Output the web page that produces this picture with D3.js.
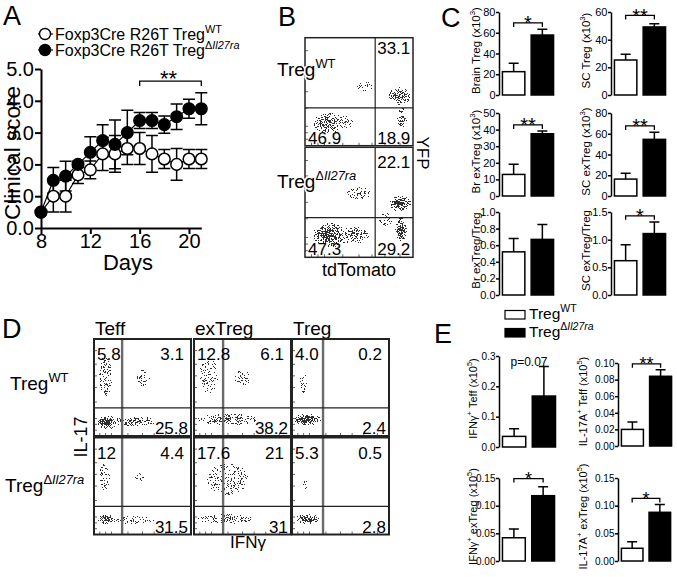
<!DOCTYPE html>
<html><head><meta charset="utf-8">
<script src="https://cdn.jsdelivr.net/npm/d3@7"></script>
<style>
html,body{margin:0;padding:0;background:#fff;}
svg{display:block;font-family:"Liberation Sans",Arial,Helvetica,sans-serif;}
</style></head><body>
<svg id="fig" width="677" height="577"></svg>
<script>
// ================= DATA =================
// Panel A: clinical score
const days     = [8, 9, 10, 11, 12, 13, 14, 15, 16, 17, 18, 19, 20, 21];
const scoreWT  = [0.5, 1.0, 1.0, 1.67, 1.83, 2.33, 2.33, 2.5, 2.5, 2.33, 2.17, 2.0, 2.17, 2.17];
const semWT    = [0, 0.5, 0.5, 0.27, 0.28, 0.52, 0.58, 0.5, 0.5, 0.58, 0.3, 0.5, 0.3, 0.3];
const scoreKO  = [0.5, 1.5, 1.63, 2.0, 2.38, 2.75, 2.63, 3.0, 3.38, 3.38, 3.25, 3.5, 3.75, 3.75];
const semKO    = [0, 0.4, 0.47, 0.1, 0.49, 0.5, 0.77, 0.7, 0.25, 0.25, 0.27, 0.4, 0.3, 0.5];
const scoreTicksY = [0, 1, 2, 3, 4, 5];
const dayTicks    = [8, 12, 16, 20];
const sigA = {from: 16, to: 21, level: 4.62, text: "**"};

// Panel B: flow quadrant percentages [top-right, bottom-left, bottom-right]
const bQuadWT = ["33.1", "46.9", "18.9"];
const bQuadKO = ["22.1", "47.3", "29.2"];
// cell clouds: [x, y, rx, ry, density] in fraction of plot
const bCloudWT = [[0.21,0.21,0.15,0.11,0.8],[0.38,0.22,0.14,0.08,0.25],[0.88,0.46,0.11,0.09,0.8],[0.9,0.26,0.05,0.1,0.75],[0.55,0.55,0.35,0.2,0.12],[0.3,0.75,0.25,0.15,0.06]];
const bCloudKO = [[0.23,0.2,0.17,0.12,0.95],[0.22,0.2,0.09,0.07,0.9],[0.45,0.2,0.18,0.09,0.5],[0.88,0.49,0.11,0.08,0.95],[0.88,0.49,0.06,0.05,0.8],[0.89,0.25,0.06,0.12,0.95],[0.89,0.24,0.035,0.08,0.8],[0.5,0.58,0.3,0.15,0.14],[0.75,0.35,0.1,0.1,0.25]];

// Panel C: bar data
const cNames  = ["Brain Treg", "SC Treg", "Br exTreg", "SC exTreg", "Br exTreg/Treg", "SC exTreg/Treg"];
const cScaled = [true, true, true, true, false, false];
const cWT     = [22.5, 25.3, 13, 16.3, 0.52, 0.62];
const cWTsem  = [8, 4.1, 6.2, 5.6, 0.16, 0.29];
const cKO     = [57.8, 49.2, 37.5, 54.6, 0.67, 1.11];
const cKOsem  = [5.5, 2.3, 1.7, 6.8, 0.18, 0.21];
const cMax    = [80, 60, 50, 80, 1.0, 1.5];
const cStep   = [20, 20, 10, 20, 0.2, 0.5];
const cSig    = ["*", "**", "**", "**", "", "*"];
const cSigAt  = [69.5, 57.5, 42.8, 67.5, null, 1.43];

// Panel D: flow quadrant percentages [top-left, top-right, bottom-right]
const dCols = ["Teff", "exTreg", "Treg"];
const dQuadWT = [["5.8","3.1","25.8"], ["12.8","6.1","38.2"], ["4.0","0.2","2.4"]];
const dQuadKO = [["12","4.4","31.5"], ["17.6","21","31"], ["5.3","0.5","2.8"]];
const dGateX  = [0.29, 0.30, 0.32];
const dGateY  = 0.29;
const dTeffWT   = [[0.13,0.14,0.11,0.08,1.0],[0.13,0.14,0.07,0.055,1.0],[0.42,0.15,0.28,0.06,0.55],[0.12,0.62,0.1,0.3,0.28],[0.5,0.6,0.22,0.22,0.14]];
const dExTregWT = [[0.35,0.17,0.36,0.07,0.6],[0.15,0.62,0.15,0.3,0.22],[0.5,0.6,0.28,0.28,0.13]];
const dTregWT   = [[0.16,0.17,0.15,0.065,0.95],[0.14,0.17,0.09,0.045,0.9],[0.12,0.55,0.1,0.25,0.15],[0.62,0.18,0.22,0.07,0.08]];
const dTeffKO   = [[0.12,0.16,0.09,0.06,0.85],[0.12,0.16,0.05,0.04,0.7],[0.4,0.15,0.28,0.05,0.4],[0.11,0.6,0.09,0.25,0.2],[0.47,0.6,0.22,0.22,0.12]];
const dExTregKO = [[0.33,0.16,0.36,0.06,0.45],[0.35,0.57,0.34,0.26,0.22]];
const dTregKO   = [[0.16,0.16,0.14,0.055,0.8],[0.15,0.16,0.08,0.04,0.6],[0.14,0.52,0.1,0.22,0.12],[0.57,0.25,0.18,0.12,0.06]];

// Panel E: bar data
const eWT    = [0.035, 0.020, 0.042, 0.023];
const eWTsem = [0.025, 0.009, 0.016, 0.012];
const eKO    = [0.168, 0.084, 0.118, 0.088];
const eKOsem = [0.097, 0.008, 0.016, 0.014];
const eMax   = [0.3, 0.10, 0.15, 0.15];
const eStep  = [0.1, 0.02, 0.05, 0.05];
const eFmt   = [".1f", ".2f", ".2f", ".2f"];
const eSig   = ["p=0.07", "**", "*", "*"];
const eSigAt = [null, 0.099, 0.149, 0.113];

// ================= HELPERS =================
const svg = d3.select('#fig');
const FF = '"Liberation Sans", Arial, Helvetica, sans-serif';
const defs = svg.append('defs');

const grad = defs.append('radialGradient').attr('id', 'blob');
grad.append('stop').attr('offset', '0%').attr('stop-color', '#000').attr('stop-opacity', 1);
grad.append('stop').attr('offset', '50%').attr('stop-color', '#000').attr('stop-opacity', 0.6);
grad.append('stop').attr('offset', '100%').attr('stop-color', '#000').attr('stop-opacity', 0);

const flt = defs.append('filter').attr('id', 'stipple').attr('filterUnits', 'userSpaceOnUse')
  .attr('x', 0).attr('y', 0).attr('width', 677).attr('height', 577)
  .attr('color-interpolation-filters', 'sRGB');
flt.append('feTurbulence').attr('type', 'fractalNoise').attr('baseFrequency', 1.3)
  .attr('numOctaves', 2).attr('seed', 5).attr('result', 'n');
flt.append('feColorMatrix').attr('in', 'n').attr('type', 'matrix')
  .attr('values', '0 0 0 0 0  0 0 0 0 0  0 0 0 0 0  4 0 0 0 -1.5').attr('result', 'na');
flt.append('feComposite').attr('in', 'SourceAlpha').attr('in2', 'na').attr('operator', 'arithmetic')
  .attr('k1', 0).attr('k2', 1).attr('k3', -1).attr('k4', 0).attr('result', 'd');
flt.append('feComponentTransfer').attr('in', 'd').attr('result', 'dots')
  .append('feFuncA').attr('type', 'discrete').attr('tableValues', '0 1 1 1 1 1 1 1 1 1');
flt.append('feFlood').attr('flood-color', '#2e2e2e').attr('result', 'fl');
flt.append('feComposite').attr('in', 'fl').attr('in2', 'dots').attr('operator', 'in');

function rich(t, parts, fs) {
  let up = false;
  parts.forEach(p => {
    const s = typeof p === 'string' ? p : p[0];
    const kind = typeof p === 'string' ? '' : p[1];
    const wantUp = kind === 'sup' || kind === 'supi';
    const ts = t.append('tspan').text(s);
    if (wantUp && !up) ts.attr('dy', -0.42 * fs);
    if (!wantUp && up) ts.attr('dy', 0.42 * fs);
    if (wantUp) ts.attr('font-size', 0.68 * fs);
    if (kind === 'supi') ts.attr('font-style', 'italic');
    up = wantUp;
  });
  return t;
}
function txt(parent, x, y, fs, parts, anchor) {
  const t = parent.append('text').attr('x', x).attr('y', y).attr('font-size', fs)
    .attr('text-anchor', anchor || 'start').attr('fill', '#000');
  return rich(t, typeof parts === 'string' ? [parts] : parts, fs);
}
function rtxt(parent, x, y, fs, parts, angle) {
  const t = parent.append('text').attr('transform', `translate(${x},${y}) rotate(${angle})`)
    .attr('font-size', fs).attr('text-anchor', 'middle').attr('fill', '#000');
  return rich(t, typeof parts === 'string' ? [parts] : parts, fs);
}
function styleAxis(g, fs, sw) {
  g.attr('font-family', FF).attr('font-size', fs);
  g.select('.domain').attr('stroke', '#000').attr('stroke-width', sw);
  g.selectAll('.tick line').attr('stroke', '#000').attr('stroke-width', sw);
  g.selectAll('.tick text').attr('fill', '#000');
}
const KO_SUP = ['Treg', ['Δ', 'sup'], ['Il27ra', 'supi']];
const WT_SUP = ['Treg', ['WT', 'sup']];

// panel letters
[['A', 3, 25], ['B', 278, 26], ['C', 441, 27], ['D', 2, 338], ['E', 434, 343]].forEach(([l, x, y]) =>
  txt(svg, x, y, 27, l));

// ================= PANEL A =================
const gA = svg.append('g');
const xA = d3.scaleLinear().domain([8, 21]).range([41, 201.3]);
const yA = d3.scaleLinear().domain([0, 5]).range([228, 69]);
styleAxis(gA.append('g').attr('transform', 'translate(41,0)')
  .call(d3.axisLeft(yA).tickValues(scoreTicksY).tickSize(6).tickSizeOuter(0).tickPadding(1)), 20, 2);
styleAxis(gA.append('g').attr('transform', 'translate(0,228)')
  .call(d3.axisBottom(xA).tickValues(dayTicks).tickSize(6).tickSizeOuter(0).tickPadding(0)), 20, 2);
rtxt(gA, 20, 153, 22.5, 'Clinical score', -90);
txt(gA, 128, 270, 22, 'Days', 'middle');

const seriesA = [
  {m: scoreWT, s: semWT, fill: '#fff'},
  {m: scoreKO, s: semKO, fill: '#000'}
];
seriesA.forEach(S => {
  days.forEach((d, i) => {
    if (!S.s[i]) return;
    const cx = xA(d), lo = yA(S.m[i] - S.s[i]), hi = yA(S.m[i] + S.s[i]);
    gA.append('path').attr('d', `M${cx},${lo}V${hi}M${cx - 6},${lo}H${cx + 6}M${cx - 6},${hi}H${cx + 6}`)
      .attr('stroke', '#000').attr('stroke-width', 1.5).attr('fill', 'none');
  });
});
const lineA = d3.line().x((d, i) => xA(days[i])).y(d => yA(d));
seriesA.forEach(S => gA.append('path').attr('d', lineA(S.m)).attr('fill', 'none')
  .attr('stroke', '#000').attr('stroke-width', 1.2));
seriesA.forEach(S => gA.selectAll(null).data(S.m).join('circle')
  .attr('cx', (d, i) => xA(days[i])).attr('cy', d => yA(d)).attr('r', 5.8)
  .attr('fill', S.fill).attr('stroke', '#000').attr('stroke-width', 1.5));
{
  const x1 = xA(sigA.from), x2 = xA(sigA.to), yy = yA(sigA.level);
  gA.append('path').attr('d', `M${x1},${yy + 5}V${yy}H${x2}V${yy + 5}`).attr('fill', 'none')
    .attr('stroke', '#000').attr('stroke-width', 1.3);
  txt(gA, (x1 + x2) / 2 - 2, yy - 4 + 0.42 * 22, 22, sigA.text, 'middle');
}
[[34, '#fff', ['Foxp3Cre R26T ', ...WT_SUP]], [50, '#000', ['Foxp3Cre R26T ', ...KO_SUP]]].forEach(([yy, fill, parts]) => {
  gA.append('line').attr('x1', 38).attr('x2', 53).attr('y1', yy).attr('y2', yy).attr('stroke', '#000').attr('stroke-width', 1.2);
  gA.append('circle').attr('cx', 45).attr('cy', yy).attr('r', 5.5).attr('fill', fill).attr('stroke', '#000').attr('stroke-width', 1.4);
  txt(gA, 55, yy + 5.7, 16, parts);
});

// ================= FLOW HELPERS =================
let clipN = 0;
function flowPlot(o) {
  const g = svg.append('g');
  const x = d3.scaleLinear().domain([0, 1]).range([o.left, o.left + o.w]);
  const y = d3.scaleLinear().domain([0, 1]).range([o.top + o.h, o.top]);
  const id = 'clip' + (clipN++);
  defs.append('clipPath').attr('id', id).append('rect')
    .attr('x', o.left).attr('y', o.top).attr('width', o.w).attr('height', o.h);
  g.append('g').attr('clip-path', `url(#${id})`).append('g').attr('filter', 'url(#stipple)')
    .selectAll('ellipse').data(o.clouds).join('ellipse')
    .attr('cx', d => x(d[0])).attr('cy', d => y(d[1]))
    .attr('rx', d => x(d[2]) - x(0)).attr('ry', d => y(0) - y(d[3]))
    .attr('fill', 'url(#blob)').attr('fill-opacity', d => d[4]);
  const tk = [0.06, 0.12, 0.18, 0.35, 0.5, 0.62, 0.74, 0.88];
  g.selectAll(null).data(tk).join('line').attr('x1', o.left).attr('x2', o.left + 3)
    .attr('y1', d => y(d)).attr('y2', d => y(d)).attr('stroke', '#666').attr('stroke-width', 1);
  g.selectAll(null).data(tk).join('line').attr('y1', o.top + o.h).attr('y2', o.top + o.h - 3)
    .attr('x1', d => x(d)).attr('x2', d => x(d)).attr('stroke', '#666').attr('stroke-width', 1);
  g.append('line').attr('x1', x(o.gx)).attr('x2', x(o.gx)).attr('y1', o.top).attr('y2', o.top + o.h)
    .attr('stroke', o.vColor).attr('stroke-width', o.vWidth);
  g.append('line').attr('x1', o.left).attr('x2', o.left + o.w).attr('y1', y(o.gy)).attr('y2', y(o.gy))
    .attr('stroke', '#222').attr('stroke-width', 1.3);
  g.append('rect').attr('x', o.left).attr('y', o.top).attr('width', o.w).attr('height', o.h)
    .attr('fill', 'none').attr('stroke', '#222').attr('stroke-width', o.frame);
  return {g, x, y};
}

// ================= PANEL B =================
const bBoxes = [
  {top: 37.7, h: 108, clouds: bCloudWT, gy: 0.35, q: bQuadWT, tdy: 16.6, lab: WT_SUP, ly: 76},
  {top: 147.3, h: 110, clouds: bCloudKO, gy: 0.36, q: bQuadKO, tdy: 21, lab: KO_SUP, ly: 188}
];
bBoxes.forEach(b => {
  const P = flowPlot({left: 305, top: b.top, w: 108, h: b.h, clouds: b.clouds, gx: 0.65, gy: b.gy,
    vColor: '#333', vWidth: 1.3, frame: 1.5});
  const fs = 17;
  txt(P.g, P.x(0.65) + 2, b.top + b.tdy, fs, b.q[0]);
  txt(P.g, 308, b.top + b.h - 2, fs, b.q[1]);
  txt(P.g, P.x(0.65) + 2, b.top + b.h - 2, fs, b.q[2]);
  txt(P.g, 277, b.ly, 19, b.lab).attr('stroke', '#fff').attr('stroke-width', 3)
    .attr('paint-order', 'stroke');
});
rtxt(svg, 417, 153, 17, 'YFP', 90);
txt(svg, 359, 276, 18, 'tdTomato', 'middle');

// ================= BAR CHART HELPER =================
function barChart(o) {
  const g = svg.append('g');
  const y = d3.scaleLinear().domain([0, o.max]).range([o.y0, o.y1]);
  const x = d3.scaleBand().domain(['WT', 'KO']).range([o.ax + 2, o.ax + o.w]).paddingInner(0.22).paddingOuter(0.05);
  const ticks = d3.range(0, o.max + o.step / 2, o.step);
  styleAxis(g.append('g').attr('transform', `translate(${o.ax},0)`)
    .call(d3.axisLeft(y).tickValues(ticks).tickFormat(d3.format(o.fmt)).tickSize(3).tickSizeOuter(0).tickPadding(0.5)),
    o.tfs, 1.5);
  const vals = [{k: 'WT', v: o.wt, e: o.wtE}, {k: 'KO', v: o.ko, e: o.koE}];
  g.selectAll('rect.bar').data(vals).join('rect').attr('class', 'bar')
    .attr('x', d => x(d.k)).attr('y', d => y(d.v)).attr('width', x.bandwidth())
    .attr('height', d => y(0) - y(d.v))
    .attr('fill', d => d.k === 'WT' ? '#fff' : '#000').attr('stroke', '#000').attr('stroke-width', 1.5);
  vals.forEach(d => {
    const cx = x(d.k) + x.bandwidth() / 2, y1 = y(d.v), y2 = y(d.v + d.e);
    g.append('path').attr('d', `M${cx},${y1}V${y2}M${cx - 5},${y2}H${cx + 5}`).attr('fill', 'none')
      .attr('stroke', '#000').attr('stroke-width', 1.5);
  });
  const c1 = x('WT') + x.bandwidth() / 2, c2 = x('KO') + x.bandwidth() / 2;
  if (o.sigAt != null) {
    const yy = y(o.sigAt);
    g.append('path').attr('d', `M${c1},${yy + 4}V${yy}H${c2}V${yy + 4}`).attr('fill', 'none')
      .attr('stroke', '#000').attr('stroke-width', 1.3);
    txt(g, (c1 + c2) / 2, yy - 1 + 0.42 * o.sfs, o.sfs, o.sig, 'middle');
  } else if (o.sig) {
    txt(g, (c1 + c2) / 2, o.y1 + 10, 12, o.sig, 'middle');
  }
  rtxt(g, o.lx, (o.y0 + o.y1) / 2 - 3, o.lfs, o.label, -90);
}

// ================= PANEL C =================
const cPos = [
  {ax: 499, y0: 95, y1: 12, lx: 480}, {ax: 611, y0: 95, y1: 12, lx: 590},
  {ax: 499, y0: 196, y1: 113, lx: 480}, {ax: 611, y0: 196, y1: 113, lx: 590},
  {ax: 499, y0: 295, y1: 212, lx: 480}, {ax: 611, y0: 295, y1: 212, lx: 590}
];
cNames.forEach((n, i) => {
  barChart(Object.assign({}, cPos[i], {
    w: 56, max: cMax[i], step: cStep[i], fmt: cMax[i] >= 10 ? 'd' : '.1f',
    wt: cWT[i], wtE: cWTsem[i], ko: cKO[i], koE: cKOsem[i],
    sig: cSig[i], sigAt: cSigAt[i], sfs: 20, tfs: 11, lfs: 11.5,
    label: cScaled[i] ? [n + ' (x10', ['3', 'sup'], ')'] : [n]
  }));
});

// ================= PANEL D =================
const dColLeft = [94, 194, 292];
const dRowTop = [339, 437.5];
const dClouds = [[dTeffWT, dExTregWT, dTregWT], [dTeffKO, dExTregKO, dTregKO]];
const dQuads = [dQuadWT, dQuadKO];
dCols.forEach((c, j) => txt(svg, dColLeft[j] + 1, 335, 19, c));
dRowTop.forEach((top, r) => {
  dCols.forEach((c, j) => {
    const left = dColLeft[j], w = 97, h = 97;
    const P = flowPlot({left, top, w, h, clouds: dClouds[r][j], gx: dGateX[j], gy: dGateY,
      vColor: '#6a6a6a', vWidth: 2.4, frame: 2});
    const q = dQuads[r][j];
    txt(P.g, left + 3, top + 21, 17, q[0]);
    txt(P.g, left + w - 7, top + 21, 17, q[1], 'end');
    txt(P.g, left + w - 3, top + h - 2, 17, q[2], 'end');
  });
});
txt(svg, 10, 390, 19, WT_SUP);
txt(svg, 5, 492, 19, KO_SUP);
rtxt(svg, 87, 437, 18, 'IL-17', -90);
txt(svg, 248, 548, 17, 'IFNγ', 'middle');

// ================= PANEL E =================
const eLabels = [
  ['IFNγ', ['+', 'sup'], ' Teff (x10', ['5', 'sup'], ')'],
  ['IL-17A', ['+', 'sup'], ' Teff (x10', ['5', 'sup'], ')'],
  ['IFNγ', ['+', 'sup'], ' exTreg (x10', ['5', 'sup'], ')'],
  ['IL-17A', ['+', 'sup'], ' exTreg (x10', ['5', 'sup'], ')']
];
const ePos = [
  {ax: 499, y0: 447, y1: 356, lx: 477, w: 58}, {ax: 618, y0: 446, y1: 363, lx: 587, w: 55},
  {ax: 499, y0: 561, y1: 478, lx: 477, w: 57}, {ax: 618, y0: 561, y1: 478, lx: 587, w: 54}
];
eLabels.forEach((lab, i) => {
  barChart(Object.assign({}, ePos[i], {
    max: eMax[i], step: eStep[i], fmt: eFmt[i],
    wt: eWT[i], wtE: eWTsem[i], ko: eKO[i], koE: eKOsem[i],
    sig: eSig[i], sigAt: eSigAt[i], sfs: 18, tfs: 10, lfs: 11, label: lab
  }));
});
[[310.5, '#fff', WT_SUP, 318.5], [328.5, '#000', KO_SUP, 337]].forEach(([yy, fill, parts, by]) => {
  svg.append('rect').attr('x', 505).attr('y', yy).attr('width', 20).attr('height', 8.5)
    .attr('fill', fill).attr('stroke', '#000').attr('stroke-width', 1.2);
  txt(svg, 529, by, 15.5, parts);
});
</script>
</body></html>
